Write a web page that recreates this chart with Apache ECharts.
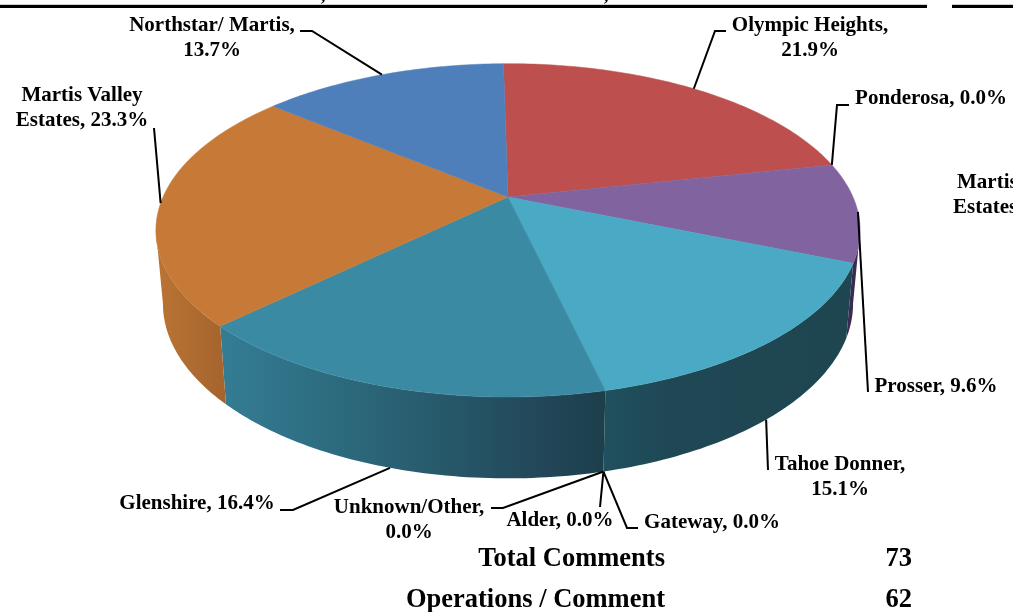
<!DOCTYPE html>
<html>
<head>
<meta charset="utf-8">
<style>
html,body{margin:0;padding:0;background:#fff;overflow:hidden}
#main{width:1013px;height:612px}
</style>
<script src="https://cdn.jsdelivr.net/npm/echarts@6/dist/echarts.min.js"></script>
</head>
<body>
<div id="main"></div>
<script>
// slice data, clockwise from the top
var categories = ['Olympic Heights', 'Ponderosa', 'Prosser', 'Tahoe Donner', 'Gateway', 'Alder', 'Unknown/Other', 'Glenshire', 'Martis Valley Estates', 'Northstar/ Martis'];
var shares = [21.9, 0.0, 9.6, 15.1, 0.0, 0.0, 0.0, 16.4, 23.3, 13.7];
var statNames = ['Total Comments', 'Operations / Comment'];
var statValues = [73, 62];

// colours, same order as categories
var topColors = ['#bd504e', '#9bbb59', '#80639f', '#4aa9c4', '#f79646', '#2c4d75', '#772c2a', '#3a8aa3', '#c77a37', '#4f7fba'];
var wallStops = [
    null, null,
    [[0, '#3c2a52'], [1, '#3c2a52']],
    [[0, '#1e4650'], [0.75, '#1f4855'], [1, '#20505e']],
    null, null, null,
    [[0, '#1d3f4c'], [0.15, '#224657'], [0.5, '#285e70'], [1, '#347d94']],
    [[0, '#a5642e'], [1, '#ba7434']],
    null
];

// where each label sits and how its leader bends
var labelLayout = [
    {x: 810, y: 38, wrap: ', ', bend: [[715, 31], [726, 31]]},
    {x: 931, y: 99, bend: [[837, 105], [849, 105]]},
    {x: 936, y: 387, bend: [[868, 392]]},
    {x: 840, y: 477, wrap: ', ', side: true, bend: [[768, 470]]},
    {x: 712, y: 523, side: true, bend: [[627, 528], [638, 528]]},
    {x: 560, y: 521, side: true, bend: [[600, 507]]},
    {x: 409, y: 520, wrap: ', ', side: true, bend: [[503, 508], [491, 508]]},
    {x: 197, y: 504, side: true, bend: [[293, 510], [280, 510]]},
    {x: 82, y: 108, wrap: 'Valley ', bend: [[154, 128]]},
    {x: 212, y: 38, wrap: ', ', bend: [[312, 31], [300, 31]]}
];

var FONT = '"Liberation Serif", "Times New Roman", serif';
var total = shares.reduce(function (a, b) { return a + b; }, 0);
var startDeg = -0.9;
var wallFrom = 101.5, wallTo = 258.5;

// disc seen in perspective: apex is not the middle of the ellipse
function topPoint(deg) {
    var t = deg * Math.PI / 180;
    var s = 1 / (1 + 0.2 * Math.cos(t));
    return [508 + 345 * Math.sin(t) * s, 197 - 160 * Math.cos(t) * s];
}
function bottomPoint(deg) {
    var p = topPoint(deg);
    return [508 + (p[0] - 508) * 0.98, 62.3 + 1.048 * p[1]];
}
function angleRange(idx) {
    var before = 0;
    for (var i = 0; i < idx; i++) before += shares[i];
    return [startDeg + before / total * 360, startDeg + (before + shares[idx]) / total * 360];
}
function arc(fn, a, b) {
    var pts = [], n = Math.max(1, Math.ceil(Math.abs(b - a)));
    for (var i = 0; i <= n; i++) pts.push(fn(a + (b - a) * i / n));
    return pts;
}
function boldText(str, x, y, size, align) {
    return {
        type: 'text', silent: true, x: x, y: y,
        style: {text: str, fontFamily: FONT, fontWeight: 'bold', fontSize: size, fill: '#000', align: align, verticalAlign: 'middle'}
    };
}

var option = {
    backgroundColor: '#fff',
    animation: false,
    graphic: [
        {type: 'rect', silent: true, shape: {x: 0, y: 4, width: 927, height: 1}, style: {fill: '#cfcfcf'}},
        {type: 'rect', silent: true, shape: {x: 952, y: 4, width: 61, height: 1}, style: {fill: '#cfcfcf'}},
        {type: 'rect', silent: true, shape: {x: 0, y: 5, width: 927, height: 3}, style: {fill: '#000'}},
        {type: 'rect', silent: true, shape: {x: 952, y: 5, width: 61, height: 3}, style: {fill: '#000'}},
        // tails of the cut off title line
        boldText(',', 323, -4, 19, 'center'),
        boldText(',', 606, -4, 19, 'center'),
        boldText('Martis', 957, 183, 21, 'left'),
        boldText('Estates', 953, 208, 21, 'left'),
        boldText(statNames[0], 665, 559, 26.5, 'right'),
        boldText(statNames[1], 665, 600, 26.5, 'right'),
        boldText(String(statValues[0]), 912, 559, 26.5, 'right'),
        boldText(String(statValues[1]), 912, 600, 26.5, 'right')
    ],
    series: [{
        // side walls
        type: 'custom',
        coordinateSystem: 'none',
        silent: true,
        z: 1,
        data: shares,
        renderItem: function (params) {
            var i = params.dataIndex;
            var r = angleRange(i);
            var a = Math.max(r[0], wallFrom), b = Math.min(r[1], wallTo);
            if (!wallStops[i] || b <= a) return null;
            var pts = arc(topPoint, a, b).concat(arc(bottomPoint, b, a));
            var stops = wallStops[i].map(function (s) { return {offset: s[0], color: s[1]}; });
            return {
                type: 'polygon',
                shape: {points: pts},
                style: {fill: new echarts.graphic.LinearGradient(1, 0, 0, 0, stops)}
            };
        }
    }, {
        // top face
        type: 'custom',
        coordinateSystem: 'none',
        silent: true,
        z: 2,
        data: shares,
        renderItem: function (params) {
            var i = params.dataIndex;
            if (!shares[i]) return null;
            var r = angleRange(i);
            var pts = [[508, 197]].concat(arc(topPoint, r[0], r[1]));
            return {
                type: 'polygon',
                shape: {points: pts},
                style: {fill: topColors[i], stroke: topColors[i], lineWidth: 0.5}
            };
        }
    }, {
        // leaders and labels
        type: 'custom',
        coordinateSystem: 'none',
        silent: true,
        z: 3,
        data: shares,
        renderItem: function (params) {
            var i = params.dataIndex;
            var r = angleRange(i);
            var mid = (r[0] + r[1]) / 2;
            var lay = labelLayout[i];
            var start = lay.side ? bottomPoint(mid) : topPoint(mid);
            var text = categories[i] + ', ' + shares[i].toFixed(1) + '%';
            if (lay.wrap) text = text.replace(lay.wrap, lay.wrap.trim() + '\n');
            return {
                type: 'group',
                children: [{
                    type: 'polyline',
                    shape: {points: [start].concat(lay.bend)},
                    style: {stroke: '#000', lineWidth: 2, fill: null}
                }, {
                    type: 'text',
                    x: lay.x,
                    y: lay.y,
                    style: {
                        text: text,
                        fontFamily: FONT,
                        fontWeight: 'bold',
                        fontSize: 21,
                        lineHeight: 25,
                        fill: '#000',
                        align: 'center',
                        verticalAlign: 'middle'
                    }
                }]
            };
        }
    }]
};

var myChart = echarts.init(document.getElementById('main'));
myChart.setOption(option);
</script>
</body>
</html>
